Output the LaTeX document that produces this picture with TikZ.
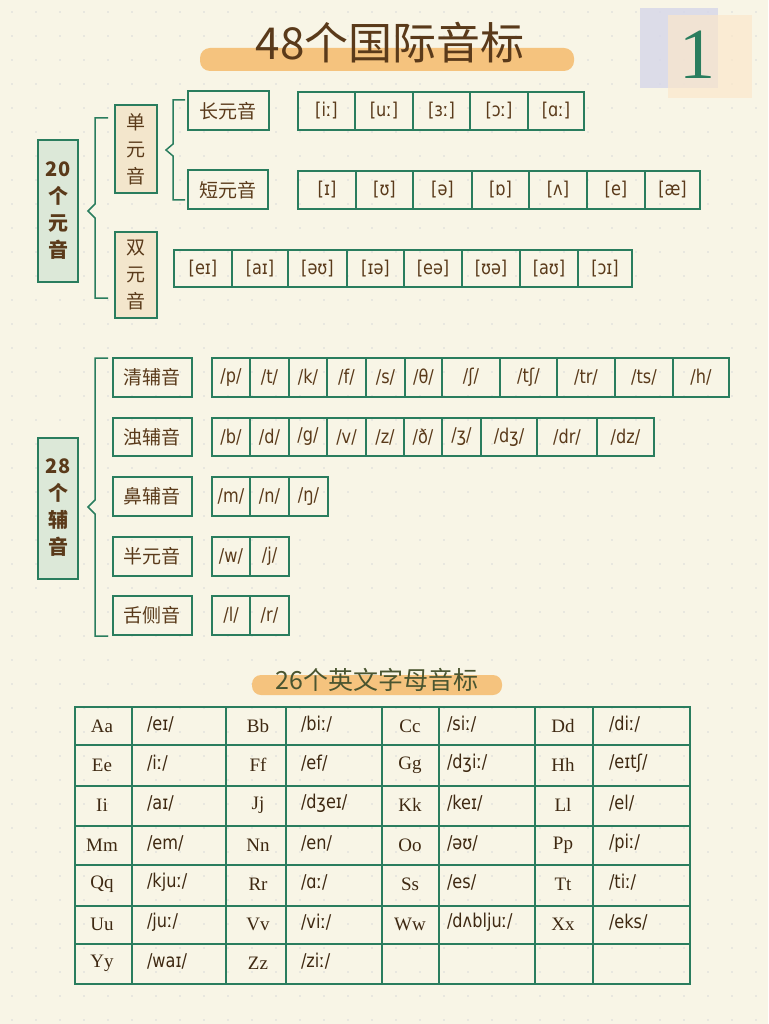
\documentclass[tikz,border=0pt]{standalone}
\usepackage{fontspec}
\setmainfont{Liberation Serif}
\newfontfamily\cjk{Noto Sans CJK SC}
\newfontfamily\ipa{DejaVu Sans}
\definecolor{bg}{HTML}{F8F5E6}
\definecolor{gr}{HTML}{2A7D5E}
\definecolor{br}{HTML}{5A3A1A}
\definecolor{hl}{HTML}{F5C37E}
\definecolor{lgr}{HTML}{DCE8D8}
\definecolor{bei}{HTML}{F3E6CC}
\definecolor{olive}{HTML}{4A5530}
\tikzset{
 box/.style={draw=gr,line width=2pt,inner sep=0pt,text=br},
 cat/.style={box,font=\cjk\fontsize{19}{19}\selectfont},
 cell/.style={draw=gr,line width=1.3pt,inner sep=0pt},
 ipat/.style={text=br,font=\ipa\fontsize{19}{19}\selectfont,xscale=0.85,transform shape},
 brace/.style={draw=gr,line width=1.5pt},
}
\newcommand{\rowcells}[5]{% name, y1, y2, wrapper, list x1/x2/text
 \foreach \a/\b/\t [count=\i] in {#5}{
  \draw[cell] (\a,#2) rectangle (\b,#3);
  \node[ipat] (#1\i) at ({(\a+\b)/2},{(#2+#3)/2}) {#4};
 }}
\begin{document}
\begin{tikzpicture}[x=1pt,y=-1pt]
\fill[bg] (0,0) rectangle (768,1024);
\useasboundingbox (0,0) rectangle (768,1024);
\foreach \x in {12,36,...,768} \foreach \y in {12,36,...,1024} \fill[black!15] (\x,\y) circle (0.8pt);
% title
\fill[hl,rounded corners=10pt] (200,48) rectangle (574,71);
\node[text=br,font=\cjk\fontsize{44}{44}\selectfont] (title) at (390,43) {48个国际音标};
\fill[blue!30!gray!25,opacity=0.8] (640,8) rectangle (718,88);
\fill[hl!40,opacity=0.7] (668,15) rectangle (752,98);
\node[text=gr,font=\fontsize{72}{72}\selectfont] (one) at (697,55) {1};
% vowels
\node[cat,fill=lgr,minimum width=40pt,minimum height=142pt,align=center,font=\cjk\bfseries\fontsize{20}{27}\selectfont] (v20) at (58,211) {20\\个\\元\\音};
\draw[brace] (108,118) -- (95,118) -- (95,204) -- (88,211) -- (95,218) -- (95,298) -- (108,298);
\node[cat,fill=bei,minimum width=42pt,minimum height=88pt,align=center,font=\cjk\fontsize{19}{27}\selectfont] (dan) at (136,149) {单\\元\\音};
\node[cat,fill=bei,minimum width=42pt,minimum height=86pt,align=center,font=\cjk\fontsize{19}{27}\selectfont] (shuang) at (136,275) {双\\元\\音};
\draw[brace] (185,100) -- (173,100) -- (173,144) -- (166,150) -- (173,156) -- (173,200) -- (185,200);
\node[cat,minimum width=81pt,minimum height=39pt] (chang) at (228,111) {长元音};
\node[cat,minimum width=80pt,minimum height=39pt] (duan) at (228,190) {短元音};
\rowcells{l}{92}{130}{[\t]}{298/355/iː,355/413/uː,413/470/ɜː,470/528/ɔː,528/584/ɑː}
\rowcells{s}{171}{209}{[\t]}{298/356/ɪ,356/413/ʊ,413/472/ə,472/529/ɒ,529/587/ʌ,587/645/e,645/700/æ}
\rowcells{d}{250}{287}{[\t]}{174/232/eɪ,232/288/aɪ,288/347/əʊ,347/404/ɪə,404/462/eə,462/520/ʊə,520/578/aʊ,578/632/ɔɪ}
% consonants
\node[cat,fill=lgr,minimum width=40pt,minimum height=141pt,align=center,font=\cjk\bfseries\fontsize{20}{27}\selectfont] (c28) at (58,508) {28\\个\\辅\\音};
\draw[brace] (108,358) -- (95,358) -- (95,500) -- (88,507) -- (95,514) -- (95,636) -- (108,636);
\node[cat,minimum width=79pt,minimum height=39pt] (qing) at (152,377) {清辅音};
\node[cat,minimum width=79pt,minimum height=38pt] (zhuo) at (152,437) {浊辅音};
\node[cat,minimum width=79pt,minimum height=39pt] (bi) at (152,496) {鼻辅音};
\node[cat,minimum width=79pt,minimum height=39pt] (ban) at (152,556) {半元音};
\node[cat,minimum width=79pt,minimum height=39pt] (she) at (152,615) {舌侧音};
\rowcells{q}{358}{397}{/\t/}{212/250/p,250/289/t,289/327/k,327/366/f,366/405/s,405/442/θ,442/500/ʃ,500/557/tʃ,557/615/tr,615/673/ts,673/729/h}
\rowcells{z}{418}{456}{/\t/}{212/250/b,250/289/d,289/327/g,327/366/v,366/404/z,404/442/ð,442/481/ʒ,481/537/dʒ,537/597/dr,597/654/dz}
\rowcells{n}{477}{516}{/\t/}{212/250/m,250/289/n,289/328/ŋ}
\rowcells{b}{537}{576}{/\t/}{212/250/w,250/289/j}
\rowcells{sh}{596}{635}{/\t/}{212/250/l,250/289/r}
% alphabet
\fill[hl,rounded corners=9pt] (252,675) rectangle (502,695);
\node[text=olive,font=\cjk\fontsize{25}{25}\selectfont] (sub) at (377,680) {26个英文字母音标};
\foreach \xa/\xb in {75/132,132/226,226/286,286/382,382/439,439/535,535/593,593/690}
 \foreach \ya/\yb in {707/745,745/786,786/826,826/865,865/906,906/944,944/984}
  \draw[cell] (\xa,\ya) rectangle (\xb,\yb);
\foreach \r/\y/\A/\a/\B/\b in {
 1/726/Aa/eɪ/Bb/biː,
 2/765/Ee/iː/Ff/ef,
 3/805/Ii/aɪ/Jj/dʒeɪ,
 4/845/Mm/em/Nn/en,
 5/884/Qq/kjuː/Rr/ɑː,
 6/924/Uu/juː/Vv/viː,
 7/963/Yy/waɪ/Zz/ziː}{
 \node[text=br!70!black,font=\fontsize{19}{19}\selectfont] (A\r) at (102,\y) {\A};
 \node[ipat,text=br!70!black,anchor=west] (a\r) at (144,\y-2) {/\a/};
 \node[text=br!70!black,font=\fontsize{19}{19}\selectfont] (B\r) at (258,\y) {\B};
 \node[ipat,text=br!70!black,anchor=west] (b\r) at (298,\y-2) {/\b/};
}
\foreach \r/\y/\C/\c/\D/\d in {
 1/726/Cc/siː/Dd/diː,
 2/765/Gg/dʒiː/Hh/eɪtʃ,
 3/805/Kk/keɪ/Ll/el,
 4/845/Oo/əʊ/Pp/piː,
 5/884/Ss/es/Tt/tiː,
 6/924/Ww/dʌbljuː/Xx/eks}{
 \node[text=br!70!black,font=\fontsize{19}{19}\selectfont] (C\r) at (410,\y) {\C};
 \node[ipat,text=br!70!black,anchor=west] (c\r) at (444,\y-2) {/\c/};
 \node[text=br!70!black,font=\fontsize{19}{19}\selectfont] (D\r) at (563,\y) {\D};
 \node[ipat,text=br!70!black,anchor=west] (d\r) at (606,\y-2) {/\d/};
}
\end{tikzpicture}
\end{document}
